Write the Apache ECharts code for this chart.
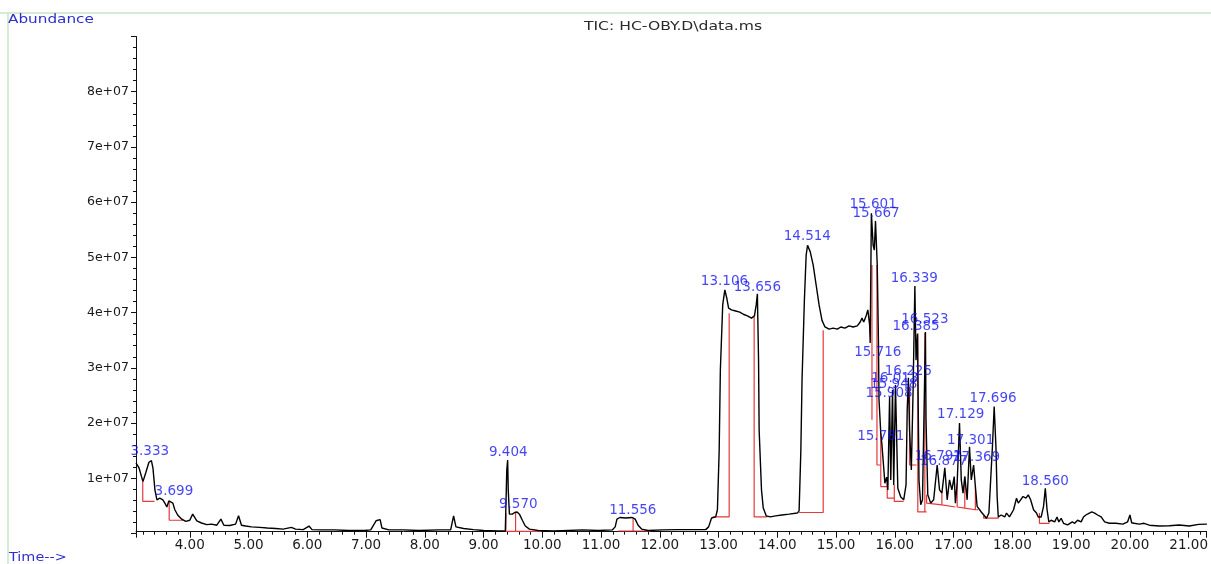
<!DOCTYPE html>
<html>
<head>
<meta charset="utf-8">
<script src="https://cdn.jsdelivr.net/npm/echarts@6/dist/echarts.min.js"></script>
<style>
html,body{margin:0;padding:0;background:#fff;}
#chart{width:1211px;height:564px;}
</style>
</head>
<body>
<div id="chart"></div>
<script>
// ---- DATA (time in minutes, abundance in millions of counts) ----
const traceTime = [
3.085,3.136,3.203,3.254,3.305,3.347,3.373,3.407,3.441,3.49,3.542,3.576,3.61,3.644,3.678,3.712,3.746,3.797,3.864,3.932,
4.0,4.05,4.12,4.20,4.29,4.37,4.46,4.53,4.58,4.68,4.78,4.83,4.88,4.95,5.05,5.19,5.32,5.46,5.59,5.73,5.80,5.93,
6.03,6.08,6.24,6.46,6.71,6.97,7.08,7.17,7.20,7.24,7.27,7.39,7.64,7.90,8.24,8.44,8.49,8.53,8.66,8.83,9.0,9.25,9.37,
9.395,9.41,9.42,9.44,9.49,9.53,9.57,9.61,9.66,9.71,9.78,9.93,10.19,10.44,10.69,10.95,11.19,11.24,11.27,11.32,11.42,
11.53,11.58,11.63,11.69,11.80,12.05,12.31,12.56,12.78,12.83,12.88,12.95,12.98,13.01,13.03,13.07,13.106,13.14,13.17,
13.22,13.29,13.36,13.42,13.49,13.56,13.61,13.64,13.66,13.68,13.69,13.73,13.76,13.81,13.88,13.97,14.08,14.20,14.34,
14.37,14.40,14.42,14.46,14.49,14.514,14.56,14.61,14.66,14.71,14.76,14.81,14.88,14.95,15.02,15.08,15.15,15.22,15.29,
15.36,15.41,15.44,15.47,15.51,15.54,15.57,15.58,15.60,15.63,15.65,15.67,15.70,15.72,15.73,15.76,15.78,15.81,15.83,
15.86,15.88,15.91,15.93,15.96,15.98,16.01,16.05,16.10,16.15,16.19,16.21,16.23,16.25,16.28,16.31,16.34,16.36,16.385,
16.41,16.44,16.47,16.50,16.52,16.53,16.56,16.61,16.66,16.72,16.76,16.80,16.85,16.89,16.93,16.97,17.01,17.03,17.06,
17.10,17.13,17.16,17.19,17.23,17.27,17.30,17.34,17.37,17.40,17.47,17.56,17.60,17.63,17.66,17.69,17.72,17.74,17.76,
17.81,17.87,17.90,17.95,18.02,18.07,18.10,18.14,18.18,18.23,18.27,18.31,18.34,18.36,18.41,18.44,18.49,18.53,18.56,
18.59,18.62,18.66,18.72,18.76,18.79,18.83,18.87,18.94,19.02,19.06,19.11,19.17,19.21,19.25,19.31,19.35,19.40,19.45,
19.51,19.57,19.65,19.76,19.88,19.96,20.00,20.03,20.07,20.16,20.24,20.33,20.50,20.67,20.84,21.01,21.17,21.31
];
const traceAbundM = [
12.8,11.9,9.4,11.1,12.9,13.2,11.9,7.9,6.1,6.4,6.1,5.5,4.8,5.9,6.2,5.5,4.3,3.3,2.6,2.2,
2.4,3.5,2.3,1.9,1.6,1.7,1.5,2.6,1.5,1.45,1.7,3.2,1.5,1.35,1.2,1.1,1.0,0.9,0.8,1.1,0.8,0.7,
1.35,0.7,0.65,0.65,0.55,0.55,0.65,2.3,2.1,2.5,1.0,0.65,0.65,0.55,0.65,0.65,3.2,1.2,0.9,0.7,0.55,0.45,0.45,
11.5,13.3,7.9,3.5,3.5,3.8,3.9,3.5,2.4,1.35,0.8,0.55,0.45,0.55,0.65,0.55,0.65,1.2,2.6,2.9,2.8,
2.9,2.6,1.5,0.8,0.55,0.65,0.7,0.7,0.7,1.2,2.8,3.0,4.3,15.1,29.6,41.4,44.1,42.6,40.8,
40.5,40.3,40.1,39.7,39.4,39.0,39.4,41.4,43.4,31.4,18.7,7.9,4.6,3.2,3.0,3.2,3.35,3.5,3.7,
4.1,15.1,27.8,42.3,50.4,52.2,51.0,48.6,45.0,41.4,38.6,37.4,37.0,37.2,37.0,37.4,37.2,37.6,37.4,
37.6,38.3,39.0,38.3,39.4,40.5,37.8,34.5,58.0,52.2,51.3,56.6,48.6,35.0,24.2,18.2,16.0,11.9,9.1,
10.2,7.9,24.7,9.7,26.0,8.8,26.9,8.2,6.6,6.1,8.8,22.4,28.2,18.7,11.5,26.0,44.8,31.4,36.1,
9.7,5.2,6.1,24.2,36.5,20.6,7.0,5.5,6.1,12.4,7.9,7.3,11.9,6.1,9.7,7.9,10.3,5.5,9.1,
20.0,9.7,7.3,10.3,6.1,15.7,9.7,12.4,8.5,4.9,3.9,2.75,3.7,9.7,15.7,23.0,15.7,6.7,3.0,
3.35,3.0,3.7,3.0,4.3,6.4,5.5,6.1,6.7,6.4,7.0,6.1,6.4,4.3,3.7,3.0,3.0,4.9,8.2,
4.3,2.1,2.4,2.1,3.0,2.1,2.75,1.85,1.55,2.1,1.85,2.4,2.1,3.0,3.35,3.7,3.9,3.7,3.35,
3.0,2.1,1.85,1.85,1.7,2.1,3.35,1.95,1.85,1.7,1.85,1.5,1.35,1.4,1.55,1.35,1.65,1.7
];

// integration baselines / drop lines (time, abundance in millions)
const integrationMarks = [
  [[3.20,9.4],[3.20,5.8],[3.40,5.8]],
  [[3.65,5.8],[3.65,2.4],[3.89,2.4]],
  [[9.38,3.6],[9.38,0.4],[9.99,0.4]],
  [[9.545,3.8],[9.545,0.4]],
  [[11.29,0.45],[11.85,0.45]],
  [[11.545,2.9],[11.545,0.45]],
  [[12.90,3.0],[13.18,3.0],[13.18,39.9]],
  [[13.605,39.2],[13.605,3.0],[13.83,3.0]],
  [[14.37,3.8],[14.78,3.8],[14.78,36.8]],
  [[15.61,48.6],[15.61,20.6]],
  [[15.695,48.6],[15.695,12.4],[15.76,12.4]],
  [[15.76,18.2],[15.76,8.5],[15.87,8.5]],
  [[15.87,9.0],[15.87,6.4],[15.99,6.4]],
  [[15.99,8.8],[15.99,5.8],[16.15,5.8]],
  [[16.25,26.6],[16.25,12.4],[16.37,12.4]],
  [[16.39,36.3],[16.39,3.9],[16.54,3.9]],
  [[16.51,36.3],[16.51,3.9]],
  [[16.54,7.0],[16.54,5.5],[16.80,5.2]],
  [[16.80,7.3],[16.80,5.2],[17.03,4.8]],
  [[17.06,9.1],[17.06,4.8],[17.19,4.6]],
  [[17.19,10.3],[17.19,4.6],[17.37,4.3]],
  [[17.37,8.5],[17.37,4.3],[17.42,4.3]],
  [[17.51,3.2],[17.51,2.8],[17.76,2.8],[17.76,3.0]],
  [[18.46,3.7],[18.46,1.85],[18.63,1.85]]
];

// retention-time labels: text, time of label centre, abundance level of label centre (millions)
const peakLabels = ["3.333","3.699","9.404","9.570","11.556","13.106","13.656","14.514","15.601","15.667","15.716",
  "16.339","16.523","16.385","16.225","16.013","15.948","15.908","15.781","16.797","16.877","17.369","17.129","17.301","17.696","18.560"];
const labelTimes = [3.32,3.73,9.42,9.59,11.54,13.10,13.66,14.51,15.63,15.68,15.71,
  16.33,16.51,16.36,16.23,16.00,15.98,15.90,15.76,16.74,16.83,17.39,17.12,17.29,17.67,18.56];
const labelLevelsM = [14.8,7.6,14.7,5.2,4.1,45.6,44.5,53.7,59.5,58.0,32.8,
  46.2,38.8,37.4,29.3,28.1,27.0,25.4,17.5,13.9,13.0,13.8,21.5,16.9,24.5,9.4];

const yTickValues = [1e7,2e7,3e7,4e7,5e7,6e7,7e7,8e7];
const titleText = "TIC: HC-OBY.D\\data.ms";
const yAxisName = "Abundance";
const xAxisName = "Time-->";

// ---- CHART ----
const chart = echarts.init(document.getElementById('chart'), null, {renderer:'canvas'});
const blue = '#1414f0';
const red = '#e5393b';

const series = [];
series.push({
  type:'line', name:'TIC',
  data: traceTime.map((t,i)=>[t, traceAbundM[i]*1e6]),
  showSymbol:false, symbol:'none', smooth:false,
  lineStyle:{color:'#000', width:1.4},
  z:3, silent:true
});
integrationMarks.forEach((m,k)=>{
  series.push({
    type:'line', name:'int'+k,
    data: m.map(p=>[p[0], p[1]*1e6]),
    showSymbol:false, symbol:'none',
    lineStyle:{color:red, width:1.2},
    z:2, silent:true
  });
});
series.push({
  type:'scatter', name:'labels',
  symbolSize:1,
  itemStyle:{color:'rgba(0,0,0,0)'},
  data: peakLabels.map((s,i)=>({name:s, value:[labelTimes[i], labelLevelsM[i]*1e6]})),
  label:{show:true, position:'inside', formatter:'{b}', color:blue, fontSize:13.5, fontFamily:'DejaVu Sans'},
  z:5, silent:true
});

const option = {
  animation:false,
  backgroundColor:'#fff',
  grid:{left:136, right:0, top:36.5, bottom:30.5, containLabel:false},
  xAxis:{
    type:'value', min:3.085, max:21.305, splitNumber:18, offset:-1.8,
    axisLine:{show:true, onZero:false, lineStyle:{color:'#111', width:1}},
    axisTick:{show:true, length:6, lineStyle:{color:'#111'}},
    minorTick:{show:true, splitNumber:5, length:3, lineStyle:{color:'#111'}},
    splitLine:{show:false}, minorSplitLine:{show:false},
    axisLabel:{
      color:'#1a1a1a', fontSize:13.5, fontFamily:'DejaVu Sans', margin:7,
      formatter:v=>{const r=Math.round(v*1000)/1000; return Number.isInteger(r)? r.toFixed(2):'';}
    }
  },
  yAxis:{
    type:'value', min:0, max:9e7, interval:1e7,
    axisLine:{show:true, lineStyle:{color:'#111', width:1}},
    axisTick:{show:true, length:5, lineStyle:{color:'#111'}},
    minorTick:{show:true, splitNumber:5, length:3, lineStyle:{color:'#111'}},
    splitLine:{show:false}, minorSplitLine:{show:false},
    axisLabel:{
      color:'#1a1a1a', fontSize:12.5, fontFamily:'DejaVu Sans', margin:7,
      formatter:v=> yTickValues.indexOf(v)>=0 ? (v/1e7)+'e+07' : ''
    }
  },
  graphic:[
    {type:'line', shape:{x1:0,y1:13,x2:1211,y2:13}, style:{stroke:'#c6e6c6', lineWidth:1.5}, silent:true},
    {type:'line', shape:{x1:8,y1:13,x2:8,y2:564}, style:{stroke:'#c6e6c6', lineWidth:1.5}, silent:true},
    {type:'text', x:673, y:27, scaleX:1.3, style:{text:titleText, fill:'#2a2a2a', fontSize:12, fontFamily:'DejaVu Sans', align:'center', verticalAlign:'middle'}, silent:true},
    {type:'text', x:8, y:20, scaleX:1.27, style:{text:yAxisName, fill:'#2e2ed0', fontSize:12, fontFamily:'DejaVu Sans', align:'left', verticalAlign:'middle'}, silent:true},
    {type:'text', x:9, y:557.5, scaleX:1.2, style:{text:xAxisName, fill:'#2e2ed0', fontSize:12, fontFamily:'DejaVu Sans', align:'left', verticalAlign:'middle'}, silent:true}
  ],
  series: series
};
chart.setOption(option);
</script>
</body>
</html>
